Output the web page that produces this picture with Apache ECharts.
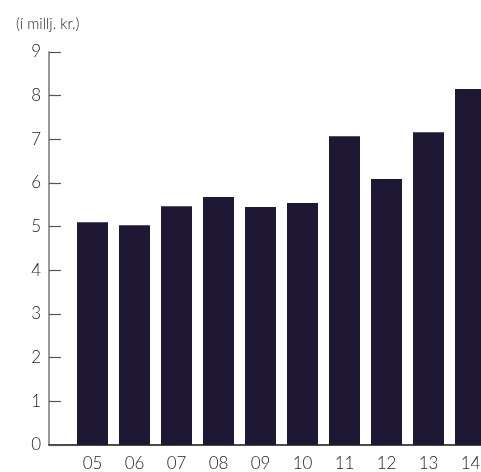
<!DOCTYPE html>
<html><head><meta charset="utf-8">
<script src="https://cdn.jsdelivr.net/npm/echarts@6/dist/echarts.min.js"></script>
<style>html,body{margin:0;padding:0;background:#fff}#c{width:481px;height:472px}</style>
</head><body><div id="c"></div>
<script>
const categories = ['05','06','07','08','09','10','11','12','13','14'];
const values = [5.10, 5.03, 5.47, 5.68, 5.45, 5.54, 7.07, 6.09, 7.16, 8.15];
const yTicks = [0,1,2,3,4,5,6,7,8,9];
const unitLabel = '(í millj. kr.)';

const chart = echarts.init(document.getElementById('c'), null, {renderer:'canvas'});
const font = 'Lato';
chart.setOption({
  animation:false,
  title:{text:unitLabel, left:11, top:12, textStyle:{fontFamily:font, fontSize:15, fontWeight:300, color:'#222'}},
  grid:[
    {left:49, width:440, top:52, bottom:27, outerBoundsMode:'none', containLabel:false},
    {left:71.5, width:420, top:52, bottom:27, outerBoundsMode:'none', containLabel:false}
  ],
  xAxis:[
    {gridIndex:0, type:'value', min:0, max:1, axisLine:{show:true, lineStyle:{color:'#111', width:1.5}}, axisTick:{show:false}, axisLabel:{show:false}, splitLine:{show:false}},
    {gridIndex:1, type:'category', data:categories, axisLine:{show:false}, axisTick:{show:false},
     axisLabel:{fontFamily:font, fontSize:17, fontWeight:300, color:'#222', margin:10}}
  ],
  yAxis:[
    {gridIndex:0, type:'value', min:yTicks[0], max:yTicks[yTicks.length-1], interval:1,
     axisLine:{show:true, lineStyle:{color:'#777', width:1.5}},
     axisTick:{show:true, inside:true, length:12, lineStyle:{color:'#555', width:1.2}},
     axisLabel:{fontFamily:font, fontSize:17, fontWeight:300, color:'#222', margin:8}, splitLine:{show:false}},
    {gridIndex:1, type:'value', min:0, max:9, show:false}
  ],
  series:[{type:'bar', xAxisIndex:1, yAxisIndex:1, data:values, barWidth:31, itemStyle:{color:'#1e1835'}}]
});
</script></body></html>
